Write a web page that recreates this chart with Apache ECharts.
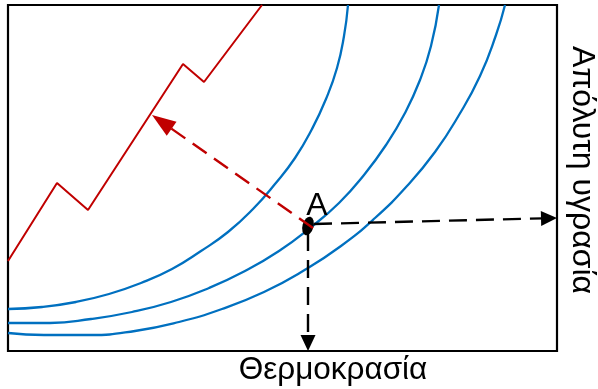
<!DOCTYPE html>
<html>
<head>
<meta charset="utf-8">
<title>Θερμοκρασία – Απόλυτη υγρασία</title>
<script src="https://cdn.jsdelivr.net/npm/echarts@6/dist/echarts.min.js"></script>
<style>
  html, body { margin: 0; padding: 0; background: #fff; }
  #chart { width: 598px; height: 389px; }
</style>
</head>
<body>
<div id="chart"></div>
<script>
// Axis extents (temperature across, absolute humidity up), arbitrary units
const tempRange = [0, 549];
const humRange = [0, 346];

// Three constant relative-humidity curves, [temperature, absolute humidity]
const rhCurveHigh = [[0,42],[34,44],[68,49],[101,57],[133,68],[164,82],[193,100],[220,119],[245,142],[267,167],[287,193],[304,222],[318,252],[329,283],[336,315],[340,346]];
const rhCurveMid  = [[0,28],[42,28],[83,32],[124,39],[163,49],[201,63],[237,80],[271,100],[302,123],[331,148],[356,176],[378,206],[397,238],[412,271],[423,305],[431,346]];
const rhCurveLow  = [[0,18],[36,16],[82,16],[127,20],[171,29],[214,42],[256,59],[295,80],[333,105],[367,133],[399,165],[427,199],[451,236],[472,275],[488,316],[497,346]];

// Zig-zag process line
const processLine = [[0,90],[49,168],[80,141],[175,287],[196,269],[254,346]];

// State point A
const pointA = [[300,125]];
const pointLabel = 'A';

// Arrows: [x from, y from, x to, y to]
const redArrows = [[305,123,144,236]];
const blackArrows = [[306,127,549,133],[300,118,300,0]];

const xTitle = 'Θερμοκρασία';
const yTitle = 'Απόλυτη υγρασία';

const BLUE = '#0070C0';
const RED = '#C00000';
const FONT = '"Liberation Sans", Arial, sans-serif';

// Dashed shaft with a filled triangular head, placed through the axes' scales
function makeArrowRenderer(color, headLen, headHalf, dash) {
  return function (params, api) {
    const p1 = api.coord([api.value(0), api.value(1)]);
    const p2 = api.coord([api.value(2), api.value(3)]);
    const dx = p2[0] - p1[0], dy = p2[1] - p1[1];
    const len = Math.sqrt(dx * dx + dy * dy) || 1;
    const ux = dx / len, uy = dy / len;
    const bx = p2[0] - ux * headLen, by = p2[1] - uy * headLen;
    const nx = -uy, ny = ux;
    return {
      type: 'group',
      children: [
        {
          type: 'line',
          shape: { x1: p1[0], y1: p1[1], x2: bx + ux * 2, y2: by + uy * 2 },
          style: { stroke: color, lineWidth: 2.4, lineDash: dash, fill: null }
        },
        {
          type: 'polygon',
          shape: { points: [[p2[0], p2[1]], [bx + nx * headHalf, by + ny * headHalf], [bx - nx * headHalf, by - ny * headHalf]] },
          style: { fill: color, stroke: null }
        }
      ]
    };
  };
}

const chart = echarts.init(document.getElementById('chart'), null, { renderer: 'canvas' });

const blueLine = (data) => ({
  type: 'line', data: data, smooth: 0.5, symbol: 'none',
  lineStyle: { color: BLUE, width: 2.3 }, z: 3, silent: true
});

chart.setOption({
  animation: false,
  backgroundColor: '#fff',
  grid: {
    left: 8, top: 5, width: 549, height: 346,
    show: true, borderColor: '#000', borderWidth: 2.2, backgroundColor: 'transparent'
  },
  xAxis: {
    type: 'value', min: tempRange[0], max: tempRange[1],
    axisLine: { show: false }, axisTick: { show: false },
    axisLabel: { show: false }, splitLine: { show: false }
  },
  yAxis: {
    type: 'value', min: humRange[0], max: humRange[1],
    axisLine: { show: false }, axisTick: { show: false },
    axisLabel: { show: false }, splitLine: { show: false }
  },
  series: [
    blueLine(rhCurveHigh),
    blueLine(rhCurveMid),
    blueLine(rhCurveLow),
    {
      type: 'line', data: processLine, symbol: 'none',
      lineStyle: { color: RED, width: 2 }, z: 3, silent: true
    },
    {
      type: 'custom', data: blackArrows, clip: false, z: 5, silent: true,
      renderItem: makeArrowRenderer('#000', 16, 7.5, [18, 9])
    },
    {
      type: 'scatter', data: pointA, symbol: 'circle', symbolSize: [11, 19],
      symbolRotate: -15, itemStyle: { color: '#000', opacity: 1 }, z: 6, silent: true,
      label: {
        show: true, formatter: pointLabel, position: 'top', offset: [9, 12],
        fontSize: 32, fontFamily: FONT, color: '#000', opacity: 1, textBorderWidth: 0
      }
    },
    {
      type: 'custom', data: redArrows, clip: false, z: 7, silent: true,
      renderItem: makeArrowRenderer(RED, 24, 8.5, [17, 9])
    }
  ],
  graphic: [
    {
      type: 'text', x: 333, y: 370, silent: true,
      style: {
        text: xTitle, fontSize: 31.5, fontFamily: FONT, fill: '#000',
        textAlign: 'center', textVerticalAlign: 'middle'
      }
    },
    {
      type: 'text', x: 582, y: 170, rotation: -Math.PI / 2, silent: true,
      style: {
        text: yTitle, fontSize: 32, fontFamily: FONT, fill: '#000',
        textAlign: 'center', textVerticalAlign: 'middle'
      }
    }
  ]
});
</script>
</body>
</html>
